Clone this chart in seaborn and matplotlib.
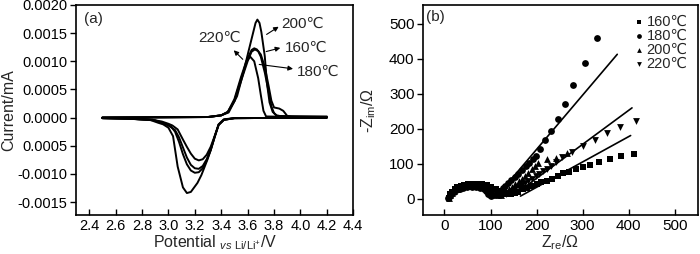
import numpy as np
import pandas as pd
import matplotlib
matplotlib.use("Agg")
import matplotlib.pyplot as plt
import seaborn as sns

sns.set_theme(style="ticks")
plt.rcParams['font.family'] = ['Liberation Sans', 'DejaVu Sans']
plt.rcParams['axes.unicode_minus'] = False
plt.rcParams['mathtext.fontset'] = 'custom'
plt.rcParams['mathtext.rm'] = 'Liberation Sans'
plt.rcParams['mathtext.it'] = 'Liberation Sans:italic'

# ---------------- (a) cyclic voltammetry ----------------
temps = ["160℃", "180℃", "200℃", "220℃"]

# anodic branch (2.5 V -> 4.2 V)
an_v_160 = [2.50, 3.30, 3.40, 3.45, 3.50, 3.55, 3.60, 3.63, 3.65, 3.67, 3.70, 3.73, 3.76, 3.78, 3.80, 3.84, 3.87, 3.90, 3.93, 4.20]
an_i_160 = [0.0, 0.00001, 0.00004, 0.00010, 0.00030, 0.00068, 0.00105, 0.00120, 0.00123, 0.00121, 0.00112, 0.00090, 0.00055, 0.00030, 0.00018, 0.00016, 0.00012, 0.00003, 0.00001, 0.00001]
an_v_180 = [2.50, 3.30, 3.40, 3.45, 3.50, 3.55, 3.60, 3.63, 3.655, 3.68, 3.70, 3.73, 3.76, 3.78, 3.80, 3.82, 4.20]
an_i_180 = [0.0, 0.00001, 0.00004, 0.00010, 0.00029, 0.00065, 0.00100, 0.00117, 0.00121, 0.00118, 0.00108, 0.00080, 0.00045, 0.00020, 0.00008, 0.00003, 0.00001]
an_v_200 = [2.50, 3.30, 3.40, 3.456, 3.52, 3.568, 3.605, 3.642, 3.66, 3.674, 3.69, 3.704, 3.73, 3.746, 3.766, 3.79, 3.82, 3.86, 4.20]
an_i_200 = [0.0, 0.00001, 0.00004, 0.00009, 0.00038, 0.00080, 0.00116, 0.00151, 0.00168, 0.00174, 0.00168, 0.00152, 0.00109, 0.00062, 0.00027, 0.00010, 0.00004, 0.00002, 0.00002]
an_v_220 = [2.50, 3.30, 3.40, 3.45, 3.50, 3.55, 3.59, 3.62, 3.65, 3.68, 3.70, 3.72, 3.74, 4.20]
an_i_220 = [0.0, 0.00001, 0.00004, 0.00010, 0.00033, 0.00072, 0.00100, 0.00108, 0.00100, 0.00070, 0.00040, 0.00012, 0.00002, 0.0]

# cathodic branch (4.2 V -> 2.5 V)
ca_v_160 = [4.20, 3.50, 3.42, 3.38, 3.35, 3.32, 3.29, 3.26, 3.23, 3.20, 3.17, 3.14, 3.11, 3.08, 3.05, 3.02, 2.97, 2.90, 2.70, 2.50]
ca_i_160 = [0.0, -0.00001, -0.00004, -0.00013, -0.00034, -0.00058, -0.00076, -0.00090, -0.00097, -0.00098, -0.00094, -0.00083, -0.00065, -0.00043, -0.00025, -0.00016, -0.00010, -0.00005, -0.00002, -0.00001]
ca_v_180 = [4.20, 3.50, 3.42, 3.38, 3.35, 3.32, 3.29, 3.26, 3.23, 3.20, 3.17, 3.14, 3.11, 3.08, 3.05, 3.00, 2.95, 2.88, 2.70, 2.50]
ca_i_180 = [0.0, -0.00001, -0.00004, -0.00013, -0.00034, -0.00057, -0.00074, -0.00086, -0.00091, -0.00090, -0.00084, -0.00071, -0.00053, -0.00035, -0.00022, -0.00014, -0.00009, -0.00004, -0.00002, -0.00001]
ca_v_200 = [4.20, 3.50, 3.42, 3.38, 3.345, 3.32, 3.295, 3.25, 3.22, 3.17, 3.14, 3.11, 3.07, 3.035, 3.00, 2.96, 2.92, 2.86, 2.70, 2.50]
ca_i_200 = [0.0, -0.00001, -0.00003, -0.00012, -0.00039, -0.00058, -0.00075, -0.00102, -0.00116, -0.00132, -0.00134, -0.00124, -0.00087, -0.00033, -0.00018, -0.00012, -0.00009, -0.00004, -0.00002, -0.00001]
ca_v_220 = [4.20, 3.50, 3.42, 3.38, 3.35, 3.32, 3.29, 3.26, 3.23, 3.20, 3.17, 3.14, 3.11, 3.07, 3.03, 3.00, 2.95, 2.88, 2.70, 2.50]
ca_i_220 = [0.0, -0.00001, -0.00004, -0.00013, -0.00033, -0.00052, -0.00066, -0.00074, -0.00076, -0.00073, -0.00064, -0.00052, -0.00039, -0.00021, -0.00014, -0.00011, -0.00007, -0.00004, -0.00002, -0.00001]

cv_x_ticks = [2.4, 2.6, 2.8, 3.0, 3.2, 3.4, 3.6, 3.8, 4.0, 4.2, 4.4]
cv_y_ticks = [-0.0015, -0.0010, -0.0005, 0.0, 0.0005, 0.0010, 0.0015, 0.0020]
cv_y_labels = ["-0.0015", "-0.0010", "0.0005", "0.0000", "0.0005", "0.0010", "0.0015", "0.0020"]

# annotations: label text position, arrow tail (on curve) and head (near label)
cv_ann_text = ["200℃", "160℃", "180℃", "220℃"]
cv_ann_tx = [4.02, 4.04, 4.135, 3.384]
cv_ann_ty = [0.00166, 0.00123, 0.00082, 0.00141]
cv_ann_tailx = [3.726, 3.72, 3.667, 3.578]
cv_ann_taily = [0.00145, 0.00116, 0.00095, 0.00100]
cv_ann_headx = [3.853, 3.868, 3.965, 3.48]
cv_ann_heady = [0.00164, 0.00125, 0.00086, 0.00123]

# ---------------- (b) Nyquist ----------------
z160_re = [10, 13, 17, 22, 28, 35, 43, 52, 62, 72, 82, 92, 102, 112, 120, 127, 133, 139, 145, 152, 160, 170, 180, 190, 200, 210, 222, 234, 246, 258, 270, 285, 300, 315, 335, 359, 383, 411]
z160_im = [3, 13, 21, 28, 33, 38, 41, 43, 44, 44, 43, 40, 35, 29, 23, 18, 14, 13, 15, 17, 21, 27, 32, 37, 42, 47, 52, 58, 66, 73, 78, 84, 90, 96, 105, 114, 122, 129]
z180_re = [8, 11, 15, 20, 26, 33, 41, 50, 59, 68, 77, 85, 91, 95, 98, 102, 108, 114, 120, 126, 132, 138, 145, 152, 160, 168, 176, 184, 192, 199, 208, 219, 232, 246, 262, 280, 304, 330]
z180_im = [2, 9, 15, 21, 25, 29, 32, 34, 35, 34, 32, 28, 22, 15, 10, 8, 10, 15, 22, 30, 38, 45, 54, 62, 72, 83, 93, 103, 113, 122, 143, 167, 195, 229, 271, 324, 387, 460]
z200_re = [9, 12, 16, 21, 27, 34, 42, 51, 60, 70, 80, 89, 97, 104, 110, 116, 122, 128, 134, 140, 147, 154, 161, 168, 175, 182, 189, 196, 204, 223, 241, 266]
z200_im = [3, 11, 18, 24, 29, 33, 36, 38, 39, 39, 37, 33, 27, 20, 14, 11, 12, 16, 22, 28, 35, 42, 50, 58, 66, 75, 84, 94, 103, 114, 117, 131]
z220_re = [10, 13, 17, 22, 28, 35, 43, 52, 62, 72, 82, 92, 101, 109, 116, 122, 128, 134, 140, 147, 154, 161, 168, 175, 182, 190, 198, 206, 214, 222, 232, 243, 255, 277, 301, 326, 353, 382, 415]
z220_im = [3, 12, 19, 26, 31, 35, 38, 40, 41, 40, 38, 34, 29, 23, 17, 14, 13, 14, 17, 22, 27, 33, 39, 45, 51, 58, 65, 72, 79, 86, 95, 105, 120, 133, 150, 167, 187, 206, 222]

# fitted straight lines (end points)
fit180_re = [130, 375]
fit180_im = [33, 413]
fit200_re = [160, 407]
fit200_im = [20, 260]
fit160_re = [165, 404]
fit160_im = [8, 181]

ny_ticks = [0, 100, 200, 300, 400, 500]

FS = 10.5
LFS = 11.5

fig = plt.figure(figsize=(7.0, 2.54), dpi=100)
ax1 = fig.add_axes([0.1086, 0.1535, 0.396, 0.827])
ax2 = fig.add_axes([0.604, 0.1535, 0.393, 0.827])

cv_sets = [(an_v_160, an_i_160, ca_v_160, ca_i_160),
           (an_v_180, an_i_180, ca_v_180, ca_i_180),
           (an_v_200, an_i_200, ca_v_200, ca_i_200),
           (an_v_220, an_i_220, ca_v_220, ca_i_220)]
for t, (av, ai, cv, ci) in zip(temps, cv_sets):
    df = pd.DataFrame({"V": list(av) + list(cv), "I": list(ai) + list(ci)})
    sns.lineplot(data=df, x="V", y="I", sort=False, estimator=None, color="black",
                 linewidth=1.4, ax=ax1)

for txt, tx, ty, x0, y0, x1, y1 in zip(cv_ann_text, cv_ann_tx, cv_ann_ty, cv_ann_tailx,
                                      cv_ann_taily, cv_ann_headx, cv_ann_heady):
    ax1.annotate("", xy=(x1, y1), xytext=(x0, y0),
                 arrowprops=dict(arrowstyle="-|>", color="black", lw=0.8, mutation_scale=7))
    ax1.text(tx, ty, txt, ha="center", va="center", fontsize=11)

ax1.set_xlim(2.3, 4.4)
ax1.set_ylim(-0.00173, 0.0020)
ax1.set_xticks(cv_x_ticks)
ax1.set_xticklabels([f"{v:.1f}" for v in cv_x_ticks])
ax1.set_yticks(cv_y_ticks)
ax1.set_yticklabels(cv_y_labels)
ax1.tick_params(axis="x", direction="in", length=4, width=1, labelsize=FS, pad=3, colors="black")
ax1.tick_params(axis="y", direction="out", length=4, width=1, labelsize=FS, pad=2, colors="black")
ax1.set_xlabel(r"Potential $_{\mathit{vs}\ \mathrm{Li/Li^{+}}}$/V", fontsize=LFS, labelpad=0)
ax1.set_ylabel("Current/mA", fontsize=LFS, labelpad=1)
ax1.text(0.03, 0.965, "(a)", transform=ax1.transAxes, ha="left", va="top", fontsize=11)

# (b)
markers = ["s", "o", "^", "v"]
ny_sets = [(z160_re, z160_im), (z180_re, z180_im), (z200_re, z200_im), (z220_re, z220_im)]
for t, m, (zr, zi) in zip(temps, markers, ny_sets):
    df = pd.DataFrame({"Zre": zr, "Zim": zi})
    sns.scatterplot(data=df, x="Zre", y="Zim", marker=m, color="black", s=24,
                    edgecolor="black", linewidth=0, label=t, ax=ax2)

for fr, fi in [(fit180_re, fit180_im), (fit200_re, fit200_im), (fit160_re, fit160_im)]:
    sns.lineplot(x=fr, y=fi, color="black", linewidth=1.2, ax=ax2, sort=False, estimator=None)

ax2.set_xlim(-47, 550)
ax2.set_ylim(-46, 554)
ax2.set_xticks(ny_ticks)
ax2.set_yticks(ny_ticks)
ax2.tick_params(axis="x", direction="in", length=4, width=1, labelsize=11, pad=3, colors="black")
ax2.tick_params(axis="y", direction="out", length=4, width=1, labelsize=11, pad=2, colors="black")
ax2.set_xlabel(r"Z$_{\mathrm{re}}$/Ω", fontsize=LFS, labelpad=0)
ax2.set_ylabel(r"-Z$_{\mathrm{im}}$/Ω", fontsize=LFS, labelpad=8)
ax2.text(0.01, 0.975, "(b)", transform=ax2.transAxes, ha="left", va="top", fontsize=11)
leg = ax2.legend(loc="upper right", frameon=False, fontsize=10.5, handletextpad=0.15,
                 labelspacing=0.0, borderaxespad=0.3, handlelength=0.8, markerscale=0.7)

for ax in (ax1, ax2):
    for s in ax.spines.values():
        s.set_linewidth(1.2)
        s.set_color("black")

fig.savefig("out.png", dpi=100)
